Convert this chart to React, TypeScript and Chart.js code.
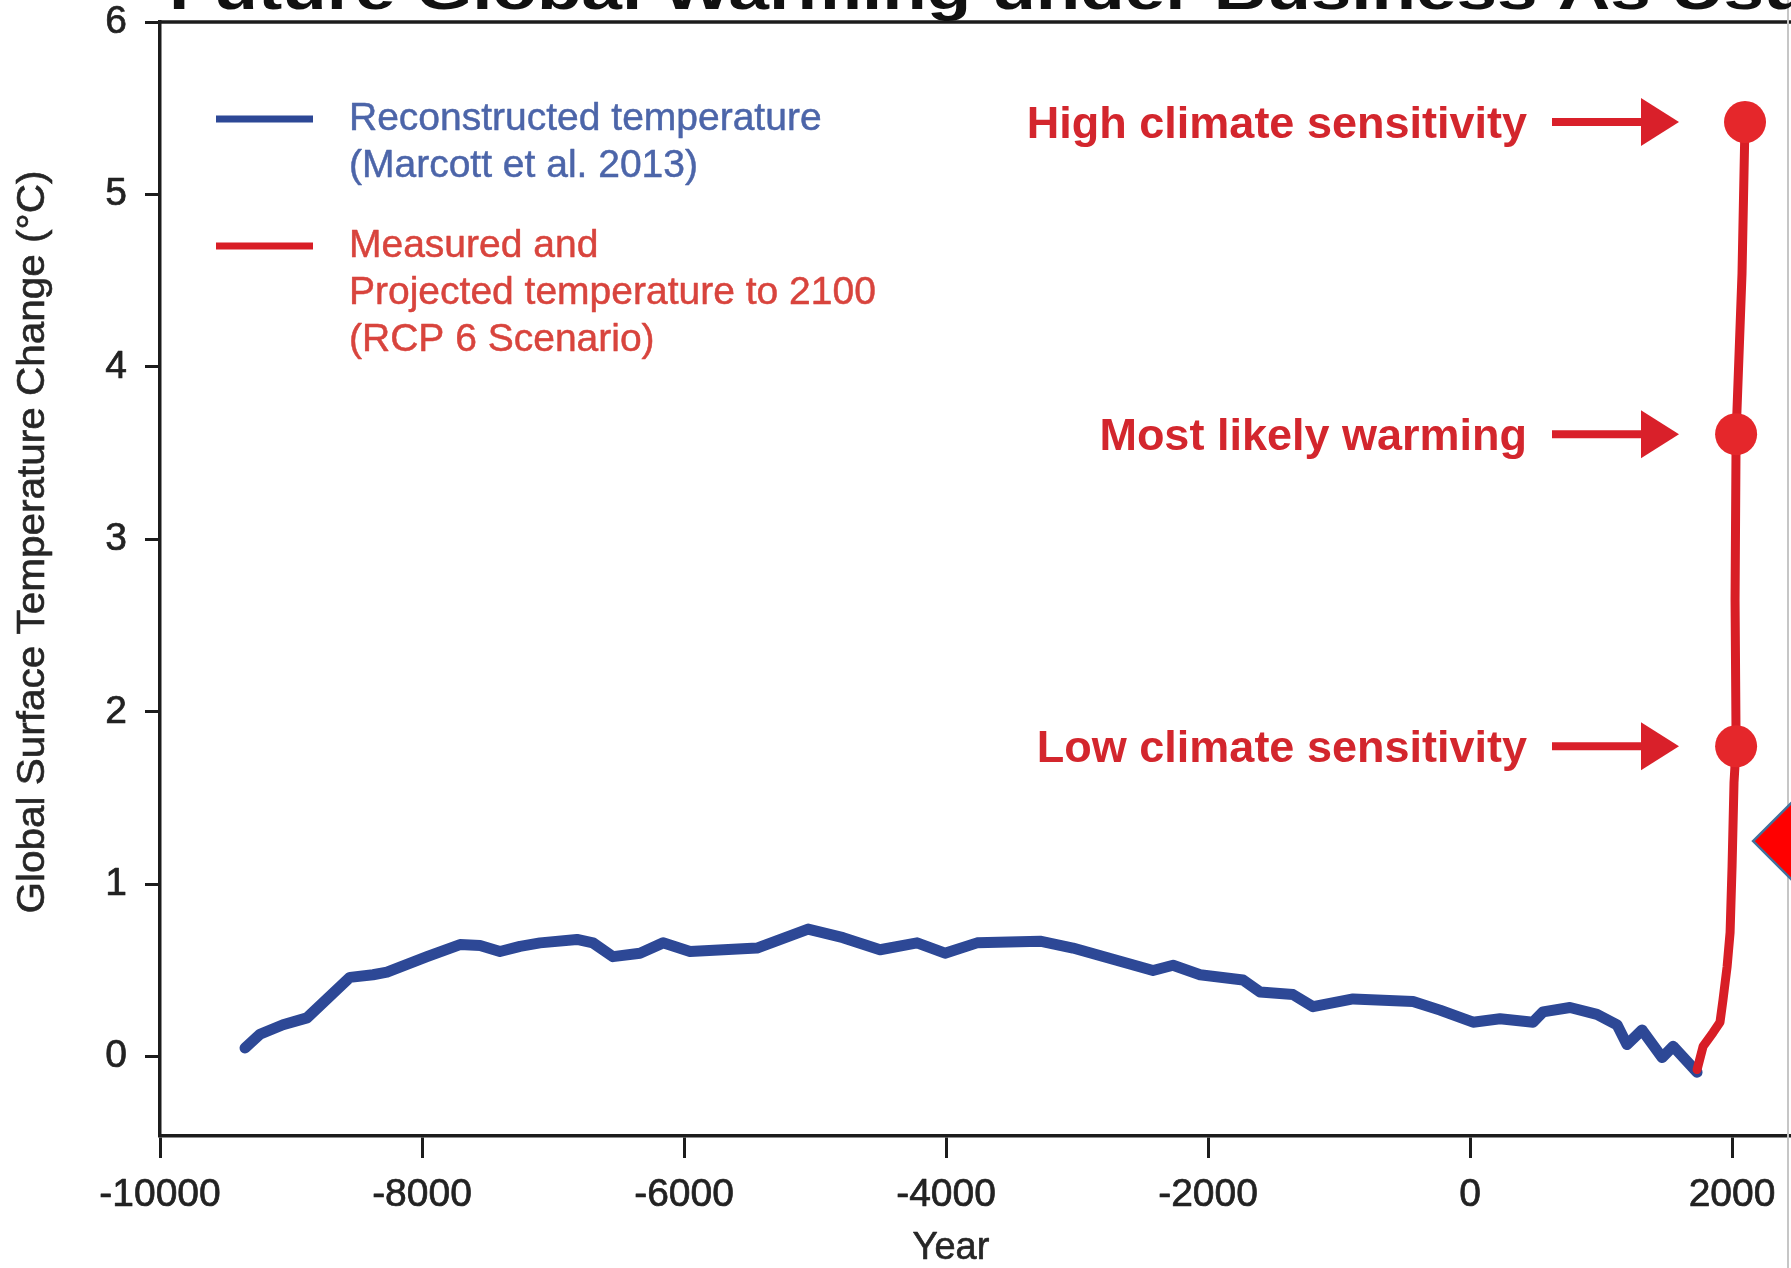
import React, { useEffect, useRef } from 'react';
import { Chart, registerables } from 'chart.js';

Chart.register(...registerables);

// ---------- data ----------
const X_TICKS = [-10000, -8000, -6000, -4000, -2000, 0, 2000];
const Y_TICKS = [0, 1, 2, 3, 4, 5, 6];

const BLUE_YEARS = [
  -9351, -9237, -9061, -8878, -8550, -8374, -8267, -7962, -7710, -7557,
  -7405, -7252, -7099, -6817, -6695, -6542, -6336, -6160, -5954, -5443,
  -5053, -4786, -4504, -4221, -4008, -3763, -3282, -3031, -2420, -2267,
  -2061, -1733, -1603, -1351, -1198, -893, -435, -229, 23, 229,
  481, 557, 763, 969, 1122, 1198, 1313, 1466, 1550, 1733,
];
const BLUE_TEMPS = [
  0.05, 0.13, 0.185, 0.225, 0.46, 0.475, 0.49, 0.58, 0.65, 0.645,
  0.61, 0.64, 0.66, 0.68, 0.66, 0.58, 0.6, 0.66, 0.61, 0.63,
  0.74, 0.69, 0.62, 0.66, 0.6, 0.66, 0.67, 0.63, 0.5, 0.53,
  0.475, 0.445, 0.375, 0.36, 0.29, 0.335, 0.32, 0.27, 0.2, 0.22,
  0.2, 0.26, 0.285, 0.245, 0.185, 0.07, 0.155, -0.005, 0.06, -0.09,
];

const RED_YEARS = [1733, 1779, 1855, 1908, 1931, 1962, 1985, 2000, 2015, 2031, 2023, 2031, 2076, 2099];
const RED_TEMPS = [-0.075, 0.06, 0.14, 0.2, 0.33, 0.52, 0.72, 1.1, 1.59, 1.8, 2.65, 3.61, 4.54, 5.42];

const MARKER_YEARS = [2031, 2031, 2099];
const MARKER_TEMPS = [1.8, 3.61, 5.42];
const MARKER_LABELS = ['Low climate sensitivity', 'Most likely warming', 'High climate sensitivity'];

const POINTER_YEARS = [2710];
const POINTER_TEMPS = [1.25];

const TITLE = 'Future Global Warming under Business As Usual';
const X_TITLE = 'Year';
const Y_TITLE = 'Global Surface Temperature Change (°C)';
const LEGEND_BLUE = ['Reconstructed temperature', '(Marcott et al. 2013)'];
const LEGEND_RED = ['Measured and', 'Projected temperature to 2100', '(RCP 6 Scenario)'];

// ---------- styles ----------
const FONT = '"Liberation Sans", Arial, Helvetica, sans-serif';
const AXIS_COLOR = '#1c1c1c';
const BLUE = '#2d4896';
const RED = '#d81e26';

function drawText(
  ctx: CanvasRenderingContext2D,
  text: string,
  x: number,
  y: number,
  align: CanvasTextAlign,
  sx = 1,
  stroke = 0,
) {
  ctx.save();
  ctx.translate(x, y);
  ctx.scale(sx, 1);
  ctx.textAlign = align;
  ctx.fillText(text, 0, 0);
  if (stroke > 0) {
    ctx.strokeStyle = ctx.fillStyle as string;
    ctx.lineWidth = stroke;
    ctx.lineJoin = 'round';
    ctx.strokeText(text, 0, 0);
  }
  ctx.restore();
}

const decorPlugin = {
  id: 'decor',
  beforeDatasetsDraw(chart: any) {
    const { ctx, chartArea: ca } = chart;
    ctx.save();
    // top frame line
    ctx.strokeStyle = AXIS_COLOR;
    ctx.lineWidth = 3.5;
    ctx.beginPath();
    ctx.moveTo(ca.left - 1.75, ca.top);
    ctx.lineTo(ca.right, ca.top);
    ctx.stroke();
    // right image border
    ctx.strokeStyle = '#c6c6c6';
    ctx.lineWidth = 2;
    ctx.beginPath();
    ctx.moveTo(1788, 0);
    ctx.lineTo(1788, chart.height);
    ctx.stroke();
    ctx.restore();
  },
  afterDraw(chart: any) {
    const { ctx, chartArea: ca, scales } = chart;
    const xs = scales.x;
    const ys = scales.y;
    ctx.save();

    // title (cut off at the top of the picture)
    ctx.fillStyle = '#111';
    ctx.font = `bold 56px ${FONT}`;
    ctx.textBaseline = 'alphabetic';
    drawText(ctx, TITLE, 169, 9, 'left', 1.3);

    // tick labels
    ctx.fillStyle = '#222';
    ctx.font = `39px ${FONT}`;
    ctx.textBaseline = 'middle';
    for (const v of X_TICKS) {
      drawText(ctx, String(v), xs.getPixelForValue(v), ca.bottom + 59, 'center', 1, 0.7);
    }
    for (const v of Y_TICKS) {
      drawText(ctx, String(v), 127, ys.getPixelForValue(v), 'right', 1, 0.7);
    }

    // axis titles
    ctx.fillStyle = '#262626';
    ctx.font = `38px ${FONT}`;
    drawText(ctx, X_TITLE, 951, 1249, 'center', 1, 0.6);
    ctx.save();
    ctx.translate(34, 542);
    ctx.rotate(-Math.PI / 2);
    ctx.font = `38px ${FONT}`;
    const w = ctx.measureText(Y_TITLE).width;
    ctx.scale(743 / w, 1);
    ctx.textAlign = 'center';
    ctx.textBaseline = 'middle';
    ctx.fillText(Y_TITLE, 0, 0);
    ctx.strokeStyle = '#262626';
    ctx.lineWidth = 0.6;
    ctx.strokeText(Y_TITLE, 0, 0);
    ctx.restore();

    // legend
    ctx.lineCap = 'butt';
    ctx.lineWidth = 7;
    ctx.strokeStyle = BLUE;
    ctx.beginPath();
    ctx.moveTo(216, 119);
    ctx.lineTo(313, 119);
    ctx.stroke();
    ctx.strokeStyle = RED;
    ctx.beginPath();
    ctx.moveTo(216, 246);
    ctx.lineTo(313, 246);
    ctx.stroke();
    ctx.font = `39px ${FONT}`;
    ctx.textBaseline = 'middle';
    ctx.fillStyle = '#4c65a9';
    LEGEND_BLUE.forEach((t, i) => drawText(ctx, t, 349, 119 + i * 47, 'left', 1, 0.5));
    ctx.fillStyle = '#d8443d';
    LEGEND_RED.forEach((t, i) => drawText(ctx, t, 349, 246 + i * 47, 'left', 1, 0.5));

    // annotations with arrows
    ctx.font = `bold 45px ${FONT}`;
    ctx.textBaseline = 'alphabetic';
    ctx.textAlign = 'right';
    MARKER_LABELS.forEach((label, i) => {
      const y = ys.getPixelForValue(MARKER_TEMPS[i]);
      ctx.fillStyle = '#d3262d';
      ctx.fillText(label, 1527, y + 16);
      ctx.strokeStyle = '#d9202a';
      ctx.fillStyle = '#d9202a';
      ctx.lineWidth = 8;
      ctx.beginPath();
      ctx.moveTo(1552, y);
      ctx.lineTo(1646, y);
      ctx.stroke();
      ctx.beginPath();
      ctx.moveTo(1641, y - 24);
      ctx.lineTo(1679, y);
      ctx.lineTo(1641, y + 24);
      ctx.closePath();
      ctx.fill();
    });

    ctx.restore();
  },
};

export default function App() {
  const canvasRef = useRef<HTMLCanvasElement | null>(null);

  useEffect(() => {
    const canvas = canvasRef.current;
    if (!canvas) return;
    const blue = BLUE_YEARS.map((x, i) => ({ x, y: BLUE_TEMPS[i] }));
    const red = RED_YEARS.map((x, i) => ({ x, y: RED_TEMPS[i] }));
    const markers = MARKER_YEARS.map((x, i) => ({ x, y: MARKER_TEMPS[i] }));
    const pointer = POINTER_YEARS.map((x, i) => ({ x, y: POINTER_TEMPS[i] }));

    const chart = new Chart(canvas, {
      type: 'line',
      data: {
        datasets: [
          {
            label: 'pointer',
            data: pointer,
            showLine: false,
            pointStyle: 'rectRot',
            pointRadius: 72,
            pointBackgroundColor: '#ff0000',
            pointBorderColor: '#41719c',
            pointBorderWidth: 2.5,
            clip: false,
            order: 0,
          } as any,
          {
            label: 'Projection end points',
            data: markers,
            showLine: false,
            pointRadius: 21,
            pointBackgroundColor: '#e5272b',
            pointBorderWidth: 0,
            order: 1,
          },
          {
            label: 'Measured and Projected temperature to 2100 (RCP 6 Scenario)',
            data: red,
            borderColor: RED,
            borderWidth: 9,
            pointRadius: 0,
            borderJoinStyle: 'round',
            borderCapStyle: 'round',
            tension: 0,
            order: 2,
          },
          {
            label: 'Reconstructed temperature (Marcott et al. 2013)',
            data: blue,
            borderColor: BLUE,
            borderWidth: 11,
            pointRadius: 0,
            borderJoinStyle: 'round',
            borderCapStyle: 'round',
            tension: 0,
            order: 3,
          },
        ],
      },
      options: {
        animation: false,
        responsive: true,
        maintainAspectRatio: false,
        events: [],
        layout: { autoPadding: false, padding: { top: 22, left: 0, right: 0, bottom: 0 } },
        plugins: {
          legend: { display: false },
          tooltip: { enabled: false },
          title: { display: false },
        },
        scales: {
          x: {
            type: 'linear',
            min: -10000,
            max: 2450,
            afterBuildTicks: (s: any) => {
              s.ticks = X_TICKS.map((v) => ({ value: v }));
            },
            afterFit: (s: any) => {
              s.height = 132;
            },
            ticks: { display: false },
            grid: {
              drawOnChartArea: false,
              drawTicks: true,
              tickLength: 22,
              tickWidth: 3,
              tickColor: AXIS_COLOR,
            },
            border: { display: true, color: AXIS_COLOR, width: 3.5 },
          },
          y: {
            type: 'linear',
            min: -0.46,
            max: 6,
            afterBuildTicks: (s: any) => {
              s.ticks = Y_TICKS.map((v) => ({ value: v }));
            },
            afterFit: (s: any) => {
              s.width = 160;
            },
            ticks: { display: false },
            grid: {
              drawOnChartArea: false,
              drawTicks: true,
              tickLength: 15,
              tickWidth: 3,
              tickColor: AXIS_COLOR,
            },
            border: { display: true, color: AXIS_COLOR, width: 3.5 },
          },
        },
      } as any,
      plugins: [decorPlugin],
    });

    return () => {
      chart.destroy();
    };
  }, []);

  return (
    <div
      style={{
        position: 'fixed',
        left: 0,
        top: 0,
        width: 1791,
        height: 1268,
        overflow: 'hidden',
        background: '#ffffff',
      }}
    >
      <canvas ref={canvasRef} />
    </div>
  );
}
